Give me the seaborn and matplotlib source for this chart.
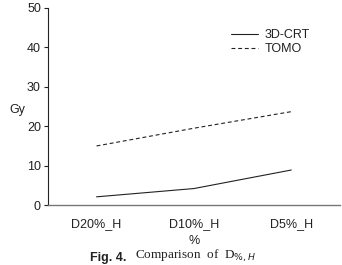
import numpy as np
import pandas as pd
import matplotlib.pyplot as plt
import seaborn as sns

categories = ['D20%_H', 'D10%_H', 'D5%_H']
crt = [2.1, 4.2, 8.9]
tomo = [15.0, 19.5, 23.7]

sns.set_style('white')
plt.rcParams['font.family'] = ['Liberation Sans', 'DejaVu Sans']
plt.rcParams['font.size'] = 8.5

df = pd.DataFrame({
	'x': list(range(3)) * 2,
	'Gy': crt + tomo,
	'plan': ['3D-CRT'] * 3 + ['TOMO'] * 3,
})

fig = plt.figure(figsize=(3.42, 2.65), dpi=100)
ax = fig.add_axes([0.140, 0.226, 0.854, 0.744])

sns.lineplot(data=df, x='x', y='Gy', hue='plan', style='plan',
	palette=['#222222', '#222222'], dashes=[(None, None), (3.5, 2.5)],
	lw=0.8, ax=ax)

ax.set_xlim(-0.5, 2.5)
ax.set_ylim(0, 50)
ax.set_yticks(range(0, 51, 10))
ax.set_xticks(range(3))
ax.set_xticklabels(categories)
ax.set_xticks([-0.5, 0.5, 1.5, 2.5], minor=True)
ax.tick_params(axis='x', which='major', length=0, pad=9, labelsize=9, colors='#222222')
ax.tick_params(axis='x', which='minor', length=3, color='#777777', direction='out')
ax.tick_params(axis='y', length=3, width=0.8, direction='out', left=True, pad=2,
	labelsize=9, colors='#222222')

for s in ['top', 'right']:
	ax.spines[s].set_visible(False)
ax.spines['left'].set_color('#222222')
ax.spines['left'].set_linewidth(0.8)
ax.spines['bottom'].set_color('#777777')
ax.spines['bottom'].set_linewidth(1.0)

ax.set_xlabel('%', fontsize=9, labelpad=4, color='#222222')
ax.set_ylabel('Gy', fontsize=9, rotation=0, color='#222222')
ax.yaxis.set_label_coords(-0.105, 0.45)

leg = ax.legend(loc='upper right', bbox_to_anchor=(0.935, 0.95), frameon=False,
	handlelength=2.2, handletextpad=0.5, labelspacing=0.15, fontsize=9)
for t in leg.get_texts():
	t.set_color('#222222')

# caption (cut at the page edge in the source; keep it just inside here)
fig.text(0.263, 0.005, 'Fig. 4.', fontsize=9, fontweight='bold', va='bottom', color='#222222')
fig.text(0.395, 0.005, 'Comparison  of  D$_{\\%,H}$', fontsize=9.5, family='Liberation Serif',
	va='bottom', color='#222222')

plt.savefig('out.png', dpi=100)
